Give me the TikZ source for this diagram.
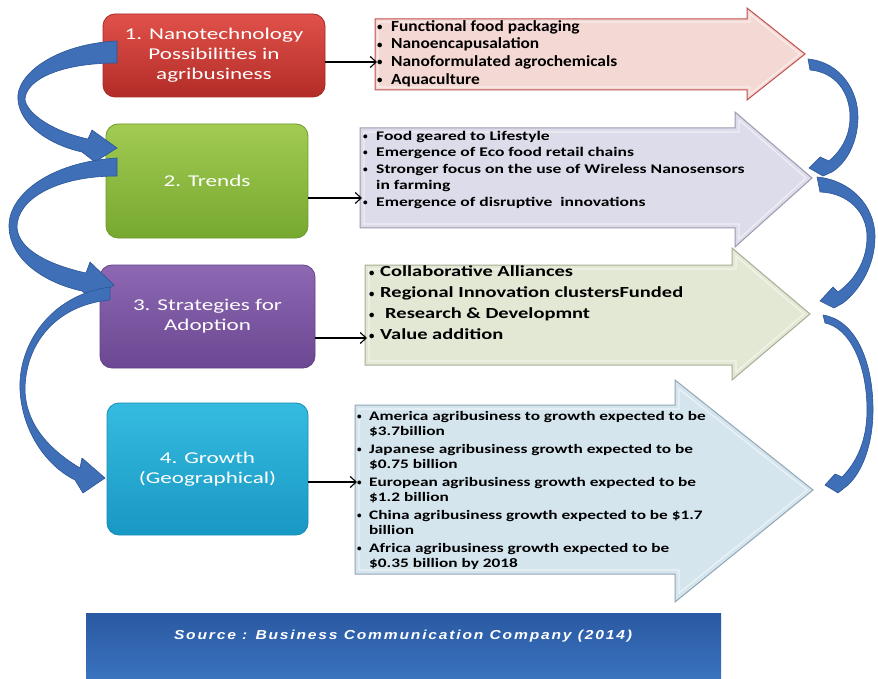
\documentclass[tikz,border=0pt]{standalone}
\usepackage{fontspec}
\usepackage{graphicx}
\setmainfont{Carlito}
\newfontfamily\boxfont[FakeStretch=1.4]{Carlito}
\newfontfamily\aonefont[FakeStretch=1.12]{Carlito}
\newfontfamily\widefont[FakeStretch=1.33]{Carlito}
\newfontfamily\bulfont{Carlito}
\newfontfamily\srcfont[FakeStretch=1.2,LetterSpace=14]{Liberation Sans}
\usetikzlibrary{arrows.meta}
\definecolor{redT}{HTML}{E0514A}
\definecolor{redB}{HTML}{B32C27}
\definecolor{redD}{HTML}{A52A25}
\definecolor{grnT}{HTML}{A2CB52}
\definecolor{grnB}{HTML}{76A830}
\definecolor{grnD}{HTML}{6E9A2C}
\definecolor{purT}{HTML}{8E68B3}
\definecolor{purB}{HTML}{6B4891}
\definecolor{purD}{HTML}{62428A}
\definecolor{cynT}{HTML}{36BBE0}
\definecolor{cynB}{HTML}{1898C4}
\definecolor{cynD}{HTML}{168DB6}
\definecolor{aoneF}{HTML}{F4D8D3}
\definecolor{aoneD}{HTML}{C0504D}
\definecolor{atwoF}{HTML}{DDDCEA}
\definecolor{atwoD}{HTML}{9C9AAE}
\definecolor{athrF}{HTML}{E3E8D4}
\definecolor{athrD}{HTML}{A6AD95}
\definecolor{afouF}{HTML}{D5E5EE}
\definecolor{afouD}{HTML}{90A6B4}
\definecolor{bandF}{HTML}{3F6FB6}
\definecolor{bandD}{HTML}{2C5597}
\definecolor{srcT}{HTML}{2A59A2}
\definecolor{srcB}{HTML}{3A73BF}
\newcommand{\bul}[1]{\makebox[#1][l]{\bulfont\raisebox{0.12ex}{\scalebox{0.7}{\textbullet}}}}
\begin{document}
\begin{tikzpicture}[x=1pt,y=-1pt,
  bx/.style={rounded corners=12pt, inner sep=0pt, align=center, text=white,
    font=\boxfont\fontsize{16.5}{20}\selectfont, line width=0.8pt},
  conn/.style={line width=1.1pt, -{Straight Barb[length=6pt,width=11pt]}},
  bandstyle/.style={fill=bandF, draw=bandD, line width=0.6pt, line join=round},
  bigarrow/.style={line width=1pt, line join=miter},
  bevel/.style={draw=white, line width=1.2pt, opacity=0.55, line join=miter},
  txt/.style={anchor=north west, inner sep=0pt, text=black}]
\fill[white] (0,0) rectangle (878,679);
\useasboundingbox (0,0) rectangle (878,679);

% big right arrows
\draw[bigarrow, fill=aoneF, draw=aoneD] (375,19) -- (747,19) -- (747,8) -- (805,54) -- (747,100) -- (747,90) -- (375,90) -- cycle;
\draw[bevel] (378,22) -- (750,22) -- (750,14) -- (800,54) -- (750,94) -- (750,87) -- (378,87) -- cycle;
\draw[bigarrow, fill=atwoF, draw=atwoD] (360,128) -- (735,128) -- (735,112) -- (812,178) -- (735,247) -- (735,228) -- (360,228) -- cycle;
\draw[bevel] (364,132) -- (739,132) -- (739,120) -- (806,178) -- (739,239) -- (739,224) -- (364,224) -- cycle;
\draw[bigarrow, fill=athrF, draw=athrD] (365,265) -- (732,265) -- (732,248) -- (810,314) -- (732,380) -- (732,365) -- (365,365) -- cycle;
\draw[bevel] (369,269) -- (736,269) -- (736,256) -- (804,314) -- (736,372) -- (736,361) -- (369,361) -- cycle;
\draw[bigarrow, fill=afouF, draw=afouD] (355,405) -- (675,405) -- (675,380) -- (813,490) -- (675,602) -- (675,574) -- (355,574) -- cycle;
\draw[bevel] (359,409) -- (679,409) -- (679,389) -- (807,490) -- (679,593) -- (679,570) -- (359,570) -- cycle;

\coordinate (a1w) at (377,62);
\coordinate (a2w) at (362,198);
\coordinate (a3w) at (367,338);
\coordinate (a4w) at (357,482);

% left boxes
\node[bx, top color=redT, bottom color=redB, draw=redD, minimum width=222, minimum height=83] (b1) at (214,55.5) {1. Nanotechnology\\Possibilities in\\agribusiness};
\node[bx, top color=grnT, bottom color=grnB, draw=grnD, minimum width=202, minimum height=114] (b2) at (207,181) {2. Trends};
\node[bx, top color=purT, bottom color=purB, draw=purD, minimum width=215, minimum height=103] (b3) at (207.5,316.5) {3. Strategies for\\Adoption};
\node[bx, top color=cynT, bottom color=cynB, draw=cynD, minimum width=201, minimum height=132] (b4) at (207.5,469) {4. Growth\\(Geographical)};

% texts in arrows
\node[txt, font=\aonefont\bfseries\fontsize{15.5}{17.8}\selectfont] (t1) at (377,18.5) {\begin{tabular}{@{}l@{}l@{}}
\bul{14pt} & Functional food packaging\\
\bul{14pt} & Nanoencapusalation\\
\bul{14pt} & Nanoformulated agrochemicals\\
\bul{14pt} & Aquaculture
\end{tabular}};
\node[txt, font=\widefont\bfseries\fontsize{13.2}{16.5}\selectfont] (t2) at (363,128.5) {\begin{tabular}{@{}l@{}l@{}}
\bul{13pt} & Food geared to Lifestyle\\
\bul{13pt} & Emergence of Eco food retail chains\\
\bul{13pt} & Stronger focus on the use of Wireless Nanosensors\\
 & in farming\\
\bul{13pt} & Emergence of disruptive\ \ innovations
\end{tabular}};
\node[txt, font=\widefont\bfseries\fontsize{15.4}{21}\selectfont] (t3) at (369,262) {\begin{tabular}{@{}l@{}l@{}}
\bul{11pt} & Collaborative Alliances\\
\bul{11pt} & Regional Innovation clustersFunded\\
\bul{11pt} & \hspace{5pt}Research \& Developmnt\\
\bul{11pt} & Value addition
\end{tabular}};
\node[txt, font=\widefont\bfseries\fontsize{13}{15}\selectfont] (t4) at (357,409.5) {\begin{tabular}{@{}l@{}l@{}}
\bul{12pt} & America agribusiness to growth expected to be\\
 & \$3.7billion\\[3pt]
\bul{12pt} & Japanese agribusiness growth expected to be\\
 & \$0.75 billion\\[3pt]
\bul{12pt} & European agribusiness growth expected to be\\
 & \$1.2 billion\\[3pt]
\bul{12pt} & China agribusiness growth expected to be \$1.7\\
 & billion\\[3pt]
\bul{12pt} & Africa agribusiness growth expected to be\\
 & \$0.35 billion by 2018
\end{tabular}};

% black connectors
\draw[conn] (b1.east |- a1w) -- (a1w);
\draw[conn] (b2.east |- a2w) -- (a2w);
\draw[conn] (b3.east |- a3w) -- (a3w);
\draw[conn] (b4.east |- a4w) -- (a4w);

% blue curved block arrows, left side
\path[bandstyle] (117,41) .. controls (55,44) and (15,75) .. (18,100) .. controls (20,125) and (50,145) .. (82,152) -- (95,162) -- (117,148) -- (92,130) -- (88,139) .. controls (55,132) and (28,115) .. (25,100) .. controls (25,80) and (60,63) .. (117,63) -- cycle;
\path[bandstyle] (117,158) .. controls (50,162) and (8,195) .. (9,227) .. controls (10,260) and (45,283) .. (82,291) -- (93,300) -- (114,285) -- (90,262) -- (86,273) .. controls (50,265) and (18,250) .. (17,227) .. controls (17,200) and (55,176) .. (117,176) -- cycle;
\path[bandstyle] (110,287) .. controls (50,295) and (18,345) .. (20,390) .. controls (22,430) and (45,465) .. (75,480) -- (83,493) -- (105,478) -- (82,458) -- (80,468) .. controls (50,450) and (26,425) .. (25,390) .. controls (25,345) and (55,305) .. (110,300) -- cycle;

% blue curved block arrows, right side
\path[bandstyle] (808,59) .. controls (840,62) and (858,90) .. (858,117) .. controls (858,140) and (848,162) .. (832,172) -- (823,176) -- (809,168) -- (820,157) -- (829,161) .. controls (842,150) and (850,135) .. (850,117) .. controls (850,92) and (835,72) .. (810,70) -- cycle;
\path[bandstyle] (817,177) .. controls (850,180) and (875,205) .. (875,237) .. controls (875,265) and (860,290) .. (843,303) -- (834,308) -- (820,301) -- (833,287) -- (838,292) .. controls (855,280) and (867,260) .. (867,237) .. controls (867,212) and (848,193) .. (820,192) -- cycle;
\path[bandstyle] (823,315) .. controls (855,320) and (873,360) .. (873,410) .. controls (873,445) and (862,472) .. (848,485) -- (838,493) -- (825,485) -- (835,474) -- (842,477) .. controls (857,462) and (867,440) .. (867,410) .. controls (867,365) and (850,328) .. (825,323) -- cycle;

% source bar
\node[draw=none, top color=srcT, bottom color=srcB, minimum width=635, minimum height=66, inner sep=0pt, anchor=north west] (src) at (86,613) {};
\node[text=white, font=\srcfont\bfseries\itshape\fontsize{13}{15}\selectfont, inner sep=0pt] (srct) at (403,636) {Source : Business Communication Company (2014)};
\end{tikzpicture}
\end{document}
